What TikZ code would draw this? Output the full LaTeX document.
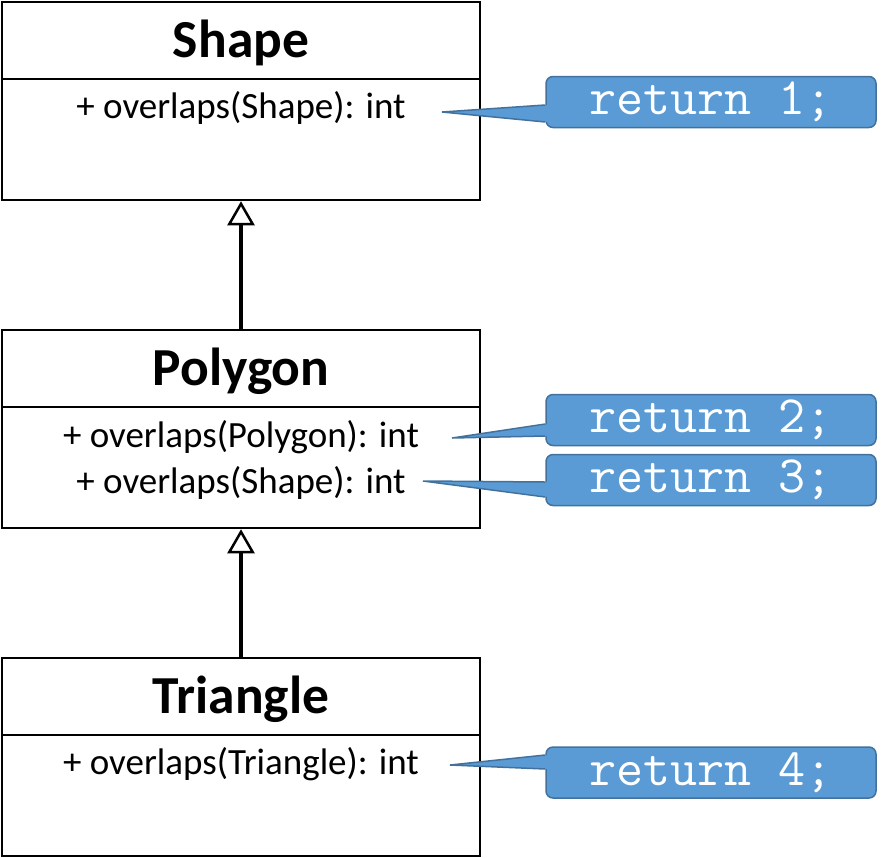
\documentclass[tikz,border=0pt]{standalone}
\usepackage{fontspec}
\setmainfont{Carlito}
\usetikzlibrary{arrows.meta}
\definecolor{calfill}{HTML}{5B9BD5}
\definecolor{caledge}{HTML}{41719C}
\tikzset{
  umlbox/.style={draw=black, line width=2.5pt, minimum width=478pt, minimum height=198pt, inner sep=0pt},
  umltitle/.style={font=\fontsize{53.5}{60}\selectfont\bfseries, inner sep=0pt},
  umlmethod/.style={font=\fontsize{37}{44}\selectfont, inner sep=0pt},
  sepline/.style={line width=2.5pt},
  inherit/.style={line width=4pt, -{Triangle[open, width=27pt, length=24pt, line width=2.5pt]}},
  calbox/.style={fill=calfill, draw=caledge, line width=1.5pt, rounded corners=7pt,
    minimum width=330pt, minimum height=51pt, inner sep=0pt, text=white,
    font=\ttfamily\fontsize{52.5}{56}\selectfont},
  calptr/.style={draw=caledge, line width=1.5pt, line join=miter},
}
\begin{document}
\begin{tikzpicture}[x=1pt, y=-1pt]
\useasboundingbox (0,0) rectangle (882,857);
% boxes
\node[umlbox] (shape) at (241,101) {};
\node[umlbox] (polygon) at (241,429) {};
\node[umlbox] (triangle) at (241,757) {};
\draw[sepline] (shape.north west) ++(0,78) coordinate (s1) -- (s1 -| shape.east);
\draw[sepline] (polygon.north west) ++(0,78) coordinate (s2) -- (s2 -| polygon.east);
\draw[sepline] (triangle.north west) ++(0,78) coordinate (s3) -- (s3 -| triangle.east);
% titles
\node[umltitle] (tshape) at (241,43) {Shape};
\node[umltitle] (tpolygon) at (241,371) {Polygon};
\node[umltitle] (ttriangle) at (241,699) {Triangle};
% methods
\node[umlmethod] (m1) at (241,108) {+ overlaps(Shape): int};
\node[umlmethod] (m2) at (241,437) {+ overlaps(Polygon): int};
\node[umlmethod] (m3) at (241,483) {+ overlaps(Shape): int};
\node[umlmethod] (m4) at (241,764) {+ overlaps(Triangle): int};
% inheritance
\draw[inherit] (polygon.north) -- (shape.south);
\draw[inherit] (triangle.north) -- (polygon.south);
% callouts
\node[calbox] (c1) at (711,102) {return 1;};
\node[calbox] (c2) at (711,420) {return 2;};
\node[calbox] (c3) at (711,480) {return 3;};
\node[calbox] (c4) at (711,772.5) {return 4;};
\coordinate (p1) at (442,112);
\coordinate (p2) at (452,438);
\coordinate (p3) at (423,481);
\coordinate (p4) at (450,765);
\fill[calfill] (p1) -- (549,105) -- (549,122) -- cycle;
\draw[calptr] (c1.west |- 0,105) -- (p1) -- (c1.west |- 0,122);
\fill[calfill] (p2) -- (549,424) -- (549,436) -- cycle;
\draw[calptr] (c2.west |- 0,424) -- (p2) -- (c2.west |- 0,436);
\fill[calfill] (p3) -- (549,482) -- (549,497) -- cycle;
\draw[calptr] (c3.west |- 0,482) -- (p3) -- (c3.west |- 0,497);
\fill[calfill] (p4) -- (549,755) -- (549,769) -- cycle;
\draw[calptr] (c4.west |- 0,755) -- (p4) -- (c4.west |- 0,769);
\end{tikzpicture}
\end{document}
